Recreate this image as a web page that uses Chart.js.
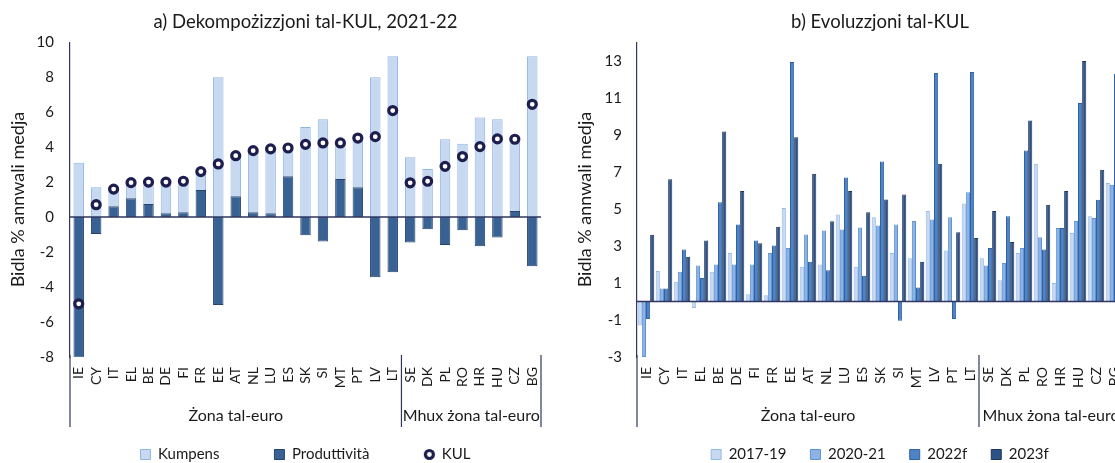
<!DOCTYPE html>
<html>
<head>
<meta charset="utf-8">
<script src="https://cdn.jsdelivr.net/npm/chart.js@4.4.0/dist/chart.umd.min.js"></script>
<style>
  html, body { margin: 0; padding: 0; overflow: hidden; background: #fff; }
  body { width: 1115px; height: 463px; position: relative; }
  .panel { position: absolute; top: 0; height: 472px; }
  #leftPanel { left: 0; width: 590px; }
  #rightPanel { left: 565px; width: 600px; }
</style>
</head>
<body>
<div class="panel" id="leftPanel"><canvas id="kulDecomp"></canvas></div>
<div class="panel" id="rightPanel"><canvas id="kulEvolution"></canvas></div>
<script>
// a) decomposition, 2021-22
const leftCountries = ['IE', 'CY', 'IT', 'EL', 'BE', 'DE', 'FI', 'FR', 'EE', 'AT', 'NL', 'LU', 'ES', 'SK', 'SI', 'MT', 'PT', 'LV', 'LT',
                       'SE', 'DK', 'PL', 'RO', 'HR', 'HU', 'CZ', 'BG'];
const kumpens = [3.1, 1.7, 0.98, 0.9, 1.25, 1.78, 1.78, 1.05, 8.0, 2.32, 3.53, 3.68, 1.62, 5.15, 5.6, 2.06, 2.82, 8.0, 9.2,
                 3.42, 2.75, 4.45, 4.2, 5.7, 5.6, 4.1, 9.2];
const produttivita = [-8.05, -0.96, 0.62, 1.08, 0.75, 0.22, 0.27, 1.55, -5.02, 1.19, 0.27, 0.22, 2.33, -1.04, -1.4, 2.18, 1.7, -3.44, -3.15,
                      -1.46, -0.7, -1.59, -0.75, -1.67, -1.17, 0.35, -2.81];
const kul = [-4.96, 0.71, 1.6, 1.97, 2.0, 2.0, 2.05, 2.6, 3.04, 3.51, 3.8, 3.9, 3.95, 4.16, 4.24, 4.24, 4.52, 4.6, 6.09,
             1.96, 2.05, 2.9, 3.46, 4.03, 4.47, 4.45, 6.45];
const leftTicks = [10, 8, 6, 4, 2, 0, -2, -4, -6, -8];
const leftLegendOrder = ['Kumpens', 'Produttività', 'KUL'];

// b) evolution
const rightCountries = ['IE', 'CY', 'IT', 'EL', 'BE', 'DE', 'FI', 'FR', 'EE', 'AT', 'NL', 'LU', 'ES', 'SK', 'SI', 'MT', 'LV', 'PT', 'LT',
                        'SE', 'DK', 'PL', 'RO', 'HR', 'HU', 'CZ', 'BG'];
const kul2017_19 = [-1.3, 1.65, 1.07, -0.35, 1.6, 2.62, 0.39, 0.33, 5.04, 1.88, 2.0, 4.69, 1.88, 4.55, 2.62, 2.33, 4.88, 2.75, 5.29,
                    2.33, 1.15, 2.62, 7.43, 1.0, 3.69, 4.6, 6.39];
const kul2020_21 = [-3.0, 0.7, 1.6, 1.94, 2.0, 2.0, 2.0, 2.62, 2.88, 3.61, 3.83, 3.88, 4.0, 4.1, 4.15, 4.35, 4.42, 4.55, 5.9,
                    1.94, 2.08, 2.88, 3.47, 3.96, 4.35, 4.5, 6.3];
const kul2022f = [-0.95, 0.7, 2.8, 1.27, 5.36, 4.15, 3.29, 3.02, 12.93, 2.15, 1.68, 6.69, 1.39, 7.56, -1.04, 0.75, 12.33, -0.95, 12.39,
                  2.88, 4.6, 8.15, 2.8, 3.96, 10.71, 5.49, 12.3];
const kul2023f = [3.6, 6.6, 2.42, 3.29, 9.18, 5.96, 3.14, 4.03, 8.87, 6.89, 4.33, 5.96, 4.82, 5.5, 5.77, 2.15, 7.43, 3.74, 3.42,
                  4.88, 3.21, 9.77, 5.22, 5.96, 12.98, 7.11, 5.0];
const rightTicks = [13, 11, 9, 7, 5, 3, 1, -1, -3];

const zoneNames = ['Żona tal-euro', 'Mhux żona tal-euro'];
const zoneSizes = [19, 8];

const fontFamily = 'Lato, "Liberation Sans", sans-serif';
const textColor = '#1a1a1a';
const axisColor = '#30365f';
Chart.defaults.font.family = fontFamily;
Chart.defaults.color = textColor;

function fixedTicks(values) {
    return scale => { scale.ticks = values.map(v => ({ value: v })); };
}

// small ring used for the KUL legend entry
const kulIcon = document.createElement('canvas');
kulIcon.width = 13;
kulIcon.height = 13;
const ic = kulIcon.getContext('2d');
ic.beginPath();
ic.arc(6.5, 6.5, 4, 0, 2 * Math.PI);
ic.fillStyle = '#fff';
ic.fill();
ic.lineWidth = 3.2;
ic.strokeStyle = '#1d1d4e';
ic.stroke();

// zero line, zone separators and zone names under the country labels
const zonesPlugin = {
    id: 'zones',
    afterDatasetsDraw(chart) {
        const { ctx, chartArea } = chart;
        const x = chart.scales.x;
        const y = chart.scales.y;
        const y0 = y.getPixelForValue(0);
        ctx.save();
        ctx.strokeStyle = axisColor;
        ctx.lineWidth = 1.5;
        ctx.beginPath();
        ctx.moveTo(chartArea.left, y0);
        ctx.lineTo(chartArea.right, y0);
        ctx.stroke();

        const half = (x.getPixelForValue(1) - x.getPixelForValue(0)) / 2;
        const edges = [chartArea.left];
        let count = 0;
        zoneSizes.forEach(n => {
            count += n;
            edges.push(x.getPixelForValue(count - 1) + half);
        });
        ctx.lineWidth = 1.2;
        edges.forEach(px => {
            ctx.beginPath();
            ctx.moveTo(px, chartArea.bottom - 2);
            ctx.lineTo(px, chartArea.bottom + 70);
            ctx.stroke();
        });

        ctx.fillStyle = textColor;
        ctx.font = '16px ' + fontFamily;
        ctx.textAlign = 'center';
        ctx.textBaseline = 'middle';
        zoneNames.forEach((name, i) => {
            ctx.fillText(name, (edges[i] + edges[i + 1]) / 2, chartArea.bottom + 59);
        });
        ctx.restore();
    }
};

function xAxis(height) {
    return {
        stacked: true,
        grid: { display: false, drawTicks: false },
        border: { display: false },
        ticks: { autoSkip: false, maxRotation: 90, minRotation: 90, padding: 10, font: { size: 14 }, color: textColor },
        afterFit: scale => { scale.height = height; }
    };
}

function yAxis(min, max, ticks, width, tickPad, titlePad) {
    return {
        min: min,
        max: max,
        afterBuildTicks: fixedTicks(ticks),
        grid: { display: false, drawTicks: false },
        border: { display: true, color: axisColor, width: 1.2 },
        ticks: { padding: tickPad, font: { size: 15 }, color: textColor },
        title: { display: true, text: 'Bidla % annwali medja', font: { size: 18 }, color: textColor, padding: { top: titlePad, bottom: 0 } },
        afterFit: scale => { scale.width = width; }
    };
}

function chartTitle(text) {
    return { display: true, text: text, fullSize: false, color: textColor, font: { size: 18.5, weight: 'normal' }, padding: { top: 11, bottom: 9 } };
}

new Chart(document.getElementById('kulDecomp'), {
    type: 'bar',
    data: {
        labels: leftCountries,
        datasets: [
            {
                type: 'line', label: 'KUL', data: kul, showLine: false, order: 0, stack: 'kul',
                pointStyle: 'circle', pointRadius: 4, pointHoverRadius: 4, pointBorderWidth: 3.2,
                pointBackgroundColor: '#fff', pointBorderColor: '#1d1d4e'
            },
            {
                label: 'Produttività', data: produttivita, order: 1, stack: 'bars',
                backgroundColor: '#386294', borderColor: '#25436d', borderWidth: 1
            },
            {
                label: 'Kumpens', data: kumpens, order: 2, stack: 'bars',
                backgroundColor: '#c6d9f1', borderColor: '#8fb5e3', borderWidth: 1
            }
        ]
    },
    options: {
        responsive: true,
        maintainAspectRatio: false,
        animation: false,
        events: [],
        categoryPercentage: 1,
        barPercentage: 0.6,
        layout: { padding: { left: 0, right: 49, top: 0, bottom: 0 } },
        scales: {
            x: xAxis(35),
            y: Object.assign(yAxis(-8, 10, leftTicks, 70, 16, 7), { stacked: true })
        },
        plugins: {
            title: chartTitle('a) Dekompożizzjoni tal-KUL, 2021-22'),
            legend: {
                position: 'bottom',
                fullSize: false,
                labels: {
                    usePointStyle: true,
                    boxWidth: 10,
                    boxHeight: 10,
                    padding: 55,
                    font: { size: 15 },
                    color: textColor,
                    sort: (a, b) => leftLegendOrder.indexOf(a.text) - leftLegendOrder.indexOf(b.text),
                    generateLabels: chart => Chart.defaults.plugins.legend.labels.generateLabels(chart)
                        .map(item => Object.assign(item, { pointStyle: item.text === 'KUL' ? kulIcon : 'rect' }))
                }
            },
            tooltip: { enabled: false }
        }
    },
    plugins: [zonesPlugin]
});

new Chart(document.getElementById('kulEvolution'), {
    type: 'bar',
    data: {
        labels: rightCountries,
        datasets: [
            { label: '2017-19', data: kul2017_19, backgroundColor: '#c6d9f1', borderColor: '#94b9e6', borderWidth: 1 },
            { label: '2020-21', data: kul2020_21, backgroundColor: '#8cb3e3', borderColor: '#5f93d3', borderWidth: 1 },
            { label: '2022f', data: kul2022f, backgroundColor: '#4f83c6', borderColor: '#2f62a3', borderWidth: 1 },
            { label: '2023f', data: kul2023f, backgroundColor: '#2f5286', borderColor: '#1c365d', borderWidth: 1 }
        ]
    },
    options: {
        responsive: true,
        maintainAspectRatio: false,
        animation: false,
        events: [],
        categoryPercentage: 0.92,
        barPercentage: 1,
        layout: { padding: { left: 0, right: 42, top: 0, bottom: 0 } },
        scales: {
            x: Object.assign(xAxis(66), { stacked: false }),
            y: yAxis(-3, 14, rightTicks, 72, 15, 9)
        },
        plugins: {
            title: chartTitle('b) Evoluzzjoni tal-KUL'),
            legend: {
                position: 'bottom',
                fullSize: false,
                labels: { boxWidth: 10, boxHeight: 10, padding: 24, font: { size: 15 }, color: textColor }
            },
            tooltip: { enabled: false }
        }
    },
    plugins: [zonesPlugin]
});
</script>
</body>
</html>
